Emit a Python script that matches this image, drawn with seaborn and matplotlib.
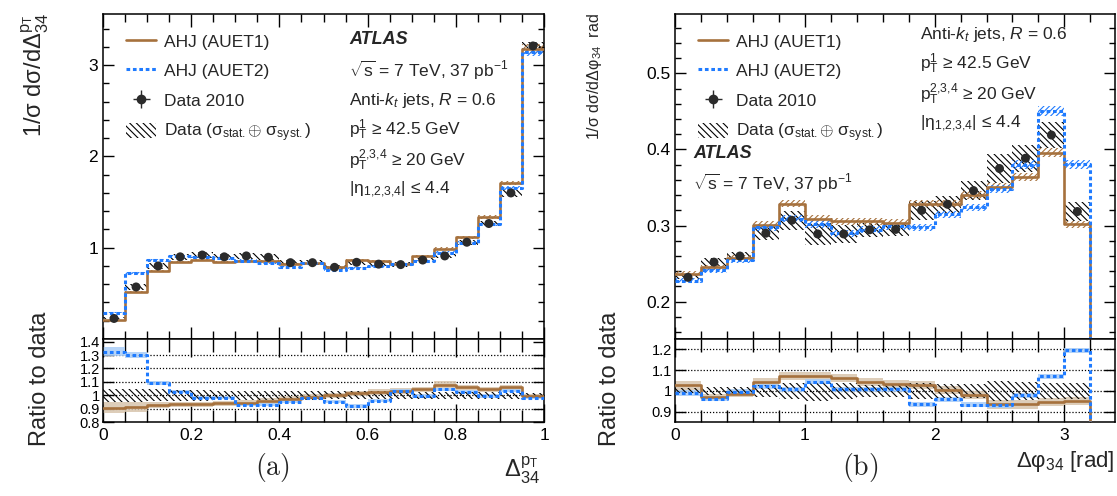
import numpy as np
import seaborn as sns
import matplotlib
matplotlib.use("Agg")
import matplotlib.pyplot as plt
from matplotlib.lines import Line2D
from matplotlib.patches import Patch
from matplotlib.ticker import MultipleLocator, FuncFormatter

sns.set_theme(style="ticks")
plt.rcParams['font.family'] = ['Liberation Sans', 'DejaVu Sans']
plt.rcParams['mathtext.fontset'] = 'custom'
plt.rcParams['mathtext.rm'] = 'Liberation Sans'
plt.rcParams['mathtext.it'] = 'Liberation Sans:italic'
plt.rcParams['mathtext.bf'] = 'Liberation Sans:bold'
plt.rcParams['hatch.linewidth'] = 0.8

BROWN = '#a6713d'
BLUE = '#1f7bff'
DARK = '#2b2b2b'

# ---- panel (a): Delta_34^pT, 20 bins of 0.05
a_edges = np.linspace(0, 1, 21)
a_data = [0.225, 0.57, 0.80, 0.90, 0.92, 0.90, 0.91, 0.895, 0.836, 0.836,
          0.785, 0.84, 0.82, 0.815, 0.865, 0.91, 1.06, 1.265, 1.60, 3.21]
a_auet1 = [0.207, 0.52, 0.745, 0.847, 0.865, 0.847, 0.855, 0.85, 0.818, 0.836,
           0.79, 0.862, 0.85, 0.82, 0.91, 0.99, 1.116, 1.34, 1.71, 3.18]
a_auet2 = [0.29, 0.727, 0.86, 0.91, 0.90, 0.884, 0.858, 0.836, 0.79, 0.836,
           0.753, 0.78, 0.80, 0.825, 0.855, 0.945, 1.055, 1.255, 1.655, 3.145]
a_data_err = [0.05, 0.05, 0.045, 0.04, 0.04, 0.035, 0.035, 0.035, 0.035, 0.035,
              0.03, 0.03, 0.03, 0.03, 0.025, 0.025, 0.025, 0.025, 0.025, 0.015]
a_ratio1 = [0.907, 0.913, 0.928, 0.932, 0.932, 0.94, 0.945, 0.958, 0.975, 0.99,
            1.0, 1.015, 1.025, 1.032, 1.045, 1.078, 1.058, 1.045, 1.058, 0.995]
a_ratio2 = [1.325, 1.30, 1.088, 1.025, 0.983, 0.983, 0.928, 0.928, 0.953, 0.983,
            0.953, 0.92, 0.958, 1.033, 0.995, 1.045, 1.025, 0.995, 1.033, 0.983]
a_ratio1_err = [0.04, 0.04, 0.02, 0.02, 0.02, 0.02, 0.02, 0.02, 0.02, 0.02,
                0.02, 0.02, 0.02, 0.02, 0.02, 0.025, 0.02, 0.02, 0.02, 0.015]
a_ratio2_err = [0.035, 0.025, 0.015, 0.012, 0.012, 0.012, 0.012, 0.012, 0.012, 0.012,
                0.012, 0.012, 0.012, 0.012, 0.012, 0.012, 0.012, 0.012, 0.012, 0.012]

# ---- panel (b): Delta phi_34, 16 bins of 0.2 (+ empty bin above 3.2)
b_edges = np.linspace(0, 3.4, 18)
b_data = [0.232, 0.252, 0.260, 0.290, 0.307, 0.289, 0.289, 0.2945, 0.295, 0.320,
          0.328, 0.346, 0.375, 0.3885, 0.419, 0.3185]
b_auet1 = [0.2367, 0.245, 0.257, 0.301, 0.329, 0.309, 0.3055, 0.3055, 0.304, 0.329,
           0.329, 0.340, 0.351, 0.3635, 0.396, 0.302, 0.0]
b_auet2 = [0.2275, 0.241, 0.255, 0.2975, 0.309, 0.302, 0.290, 0.2945, 0.299, 0.2975,
           0.315, 0.324, 0.348, 0.380, 0.4505, 0.3805, 0.0]
b_data_err = [0.012, 0.02, 0.02, 0.03, 0.04, 0.05, 0.04, 0.03, 0.03, 0.04,
              0.035, 0.035, 0.05, 0.045, 0.04, 0.04]
b_ratio1 = [1.026, 0.972, 0.987, 1.042, 1.072, 1.072, 1.062, 1.043, 1.032, 1.03,
            1.003, 0.98, 0.935, 0.935, 0.947, 0.951, 0.0]
b_ratio2 = [0.99, 0.963, 0.995, 1.022, 1.008, 1.044, 1.008, 1.008, 1.008, 0.935,
            0.96, 0.934, 0.93, 0.979, 1.07, 1.195, 0.0]
b_ratio1_err = [0.02, 0.015, 0.015, 0.02, 0.02, 0.02, 0.02, 0.02, 0.02, 0.02,
                0.02, 0.02, 0.02, 0.02, 0.02, 0.02, 0.0]
b_ratio2_err = [0.015, 0.012, 0.012, 0.012, 0.012, 0.012, 0.012, 0.012, 0.012, 0.012,
                0.012, 0.012, 0.012, 0.012, 0.012, 0.012, 0.0]

W, H = 1117, 496
fig = plt.figure(figsize=(W / 100, H / 100), dpi=100)


def px_axes(x0, y0, x1, y1):
    return fig.add_axes([x0 / W, 1 - y1 / H, (x1 - x0) / W, (y1 - y0) / H])


def px(x, y):
    return x / W, 1 - y / H


def step(ax, edges, vals, **kw):
    y = np.append(vals, vals[-1])
    sns.lineplot(x=edges[:len(y)], y=y, ax=ax, drawstyle='steps-post', **kw)


def band(ax, edges, lo, hi, **kw):
    lo = np.append(lo, lo[-1])
    hi = np.append(hi, hi[-1])
    ax.fill_between(edges[:len(lo)], lo, hi, step='post', **kw)


def style_axes(ax, major, minor, ymajor, yminor, lmaj, lmin):
    ax.xaxis.set_major_locator(MultipleLocator(major))
    ax.xaxis.set_minor_locator(MultipleLocator(minor))
    ax.yaxis.set_major_locator(MultipleLocator(ymajor))
    if yminor:
        ax.yaxis.set_minor_locator(MultipleLocator(yminor))
    ax.tick_params(which='both', direction='in', top=True, right=True, width=1.0, colors='black')
    ax.tick_params(axis='x', which='major', length=lmaj)
    ax.tick_params(axis='x', which='minor', length=lmin)
    ax.tick_params(axis='y', which='major', length=8)
    ax.tick_params(axis='y', which='minor', length=4.5)
    for s in ax.spines.values():
        s.set_linewidth(1.1)
        s.set_color('black')
    ax.yaxis.set_major_formatter(FuncFormatter(lambda v, p: f'{v:g}'))
    ax.xaxis.set_major_formatter(FuncFormatter(lambda v, p: f'{v:g}'))


def draw_main(ax, edges, data, m1, m2, derr):
    data = np.array(data)
    m1 = np.array(m1)
    m2 = np.array(m2)
    n = len(data)
    derr = np.array(derr) * data
    band(ax, edges[:n + 1], data - derr, data + derr, facecolor='none', edgecolor='black',
         hatch='\\\\\\\\\\', linewidth=0, zorder=2)
    band(ax, edges, m1 * 0.985, m1 * 1.015, facecolor='none', edgecolor=BROWN,
         hatch='//////', linewidth=0, zorder=2)
    band(ax, edges, m2 * 0.985, m2 * 1.015, facecolor='none', edgecolor=BLUE,
         hatch='//////', linewidth=0, zorder=2)
    step(ax, edges, m1, color=BROWN, lw=1.9, zorder=3)
    step(ax, edges, m2, color=BLUE, lw=2.2, linestyle=(0, (1.2, 0.9)), zorder=4)
    centers = (edges[:n] + edges[1:n + 1]) / 2
    sns.scatterplot(x=centers, y=data, ax=ax, color=DARK, s=42, edgecolor='none', zorder=5)


def draw_ratio(ax, edges, r1, r2, e1, e2, derr, grid):
    r1 = np.array(r1)
    r2 = np.array(r2)
    e1 = np.array(e1)
    e2 = np.array(e2)
    derr = np.array(derr)
    n = len(derr)
    for g in grid:
        ax.axhline(g, color='black', lw=0.9, linestyle=(0, (1, 1.5)), zorder=1)
    band(ax, edges, r1 - e1, r1 + e1, color='#d8c5ad', alpha=0.85, linewidth=0, zorder=2)
    band(ax, edges, r2 - e2, r2 + e2, color='#a9cdf7', alpha=0.85, linewidth=0, zorder=2)
    band(ax, edges[:n + 1], 1 - derr, 1 + derr, facecolor='none', edgecolor='black',
         hatch='\\\\\\\\\\', linewidth=0, zorder=3)
    step(ax, edges, r1, color=BROWN, lw=1.9, zorder=4)
    step(ax, edges, r2, color=BLUE, lw=2.2, linestyle=(0, (1.2, 0.9)), zorder=5)


# ---------------- panel (a)
axa = px_axes(103, 14, 544, 339)
axar = px_axes(103, 339, 544, 422)
draw_main(axa, a_edges, a_data, a_auet1, a_auet2, a_data_err)
axa.set_xlim(0, 1)
axa.set_ylim(0.0, 3.56)
style_axes(axa, 0.2, 0.05, 1, 0.2, 9, 5.5)
axa.set_yticks([1, 2, 3])
axa.tick_params(axis='x', labelbottom=False)
axa.tick_params(axis='y', labelsize=12.5)

draw_ratio(axar, a_edges, a_ratio1, a_ratio2, a_ratio1_err, a_ratio2_err, a_data_err,
           [0.9, 1.0, 1.1, 1.2, 1.3])
axar.set_xlim(0, 1)
axar.set_ylim(0.8, 1.42)
style_axes(axar, 0.2, 0.05, 0.1, None, 13, 9)
axar.set_yticks([0.8, 0.9, 1.0, 1.1, 1.2, 1.3, 1.4])
axar.tick_params(axis='y', labelsize=10.5, pad=2)
axar.tick_params(axis='x', labelsize=12.5, pad=4)

# ---------------- panel (b)
axb = px_axes(675, 14, 1115, 339)
axbr = px_axes(675, 339, 1115, 422)
draw_main(axb, b_edges, b_data, b_auet1, b_auet2, b_data_err)
axb.set_xlim(0, 3.39)
axb.set_ylim(0.151, 0.578)
style_axes(axb, 1, 0.2, 0.1, 0.02, 9, 5.5)
axb.tick_params(axis='x', labelbottom=False)
axb.tick_params(axis='y', labelsize=12.5)

draw_ratio(axbr, b_edges, b_ratio1, b_ratio2, b_ratio1_err, b_ratio2_err, b_data_err,
           [0.9, 1.0, 1.1, 1.2])
axbr.set_xlim(0, 3.39)
axbr.set_ylim(0.85, 1.25)
style_axes(axbr, 1, 0.2, 0.1, None, 13, 9)
axbr.set_yticks([0.9, 1.0, 1.1, 1.2])
axbr.tick_params(axis='y', labelsize=10.5, pad=2)
axbr.tick_params(axis='x', labelsize=12.5, pad=4)

for ax in (axa, axar, axb, axbr):
    ax.set_xlabel('')
    ax.set_ylabel('')

# ---------------- legends
err_proxy = axa.errorbar([np.nan], [np.nan], xerr=[0.1], yerr=[0.1], fmt='o', color=DARK,
                         ms=6, lw=1.0)
handles = [Line2D([], [], color=BROWN, lw=1.9),
           Line2D([], [], color=BLUE, lw=2.2, linestyle=(0, (1.2, 0.9))),
           err_proxy,
           Patch(facecolor='none', edgecolor='black', hatch='\\\\\\\\\\', linewidth=0)]
labels = ['AHJ (AUET1)', 'AHJ (AUET2)', 'Data 2010',
          r'Data (σ$_{\mathrm{stat.}}$$\oplus$ σ$_{\mathrm{syst.}}$)']
for ax, x0 in ((axa, 126), (axb, 698)):
    ax.legend(handles, labels, loc='upper left', bbox_to_anchor=px(x0, 33),
              bbox_transform=fig.transFigure, frameon=False, fontsize=12.5,
              handlelength=1.75, handleheight=1.0, handletextpad=0.45,
              labelspacing=0.74, borderaxespad=0, borderpad=0)

# ---------------- annotations
fs = 12.5
fig.text(*px(349, 40), 'ATLAS', fontsize=13, fontweight='bold', fontstyle='italic', va='center')
fig.text(*px(349, 70), r'$\sqrt{\mathrm{s}}$ = 7 TeV, 37 pb$^{\mathrm{-1}}$', fontsize=fs, va='center')
fig.text(*px(349, 100), r'Anti-$k_{t}$ jets, $R$ = 0.6', fontsize=fs, va='center')
fig.text(*px(349, 130), r'p$_{\mathrm{T}}^{1}$ ≥ 42.5 GeV', fontsize=fs, va='center')
fig.text(*px(349, 160), r'p$_{\mathrm{T}}^{2{,}3{,}4}$ ≥ 20 GeV', fontsize=fs, va='center')
fig.text(*px(349, 190), r'|η$_{1{,}2{,}3{,}4}$| ≤ 4.4', fontsize=fs, va='center')

fig.text(*px(920, 34), r'Anti-$k_{t}$ jets, $R$ = 0.6', fontsize=fs, va='center')
fig.text(*px(920, 64), r'p$_{\mathrm{T}}^{1}$ ≥ 42.5 GeV', fontsize=fs, va='center')
fig.text(*px(920, 94), r'p$_{\mathrm{T}}^{2{,}3{,}4}$ ≥ 20 GeV', fontsize=fs, va='center')
fig.text(*px(920, 124), r'|η$_{1{,}2{,}3{,}4}$| ≤ 4.4', fontsize=fs, va='center')
fig.text(*px(693, 154), 'ATLAS', fontsize=13, fontweight='bold', fontstyle='italic', va='center')
fig.text(*px(693, 183), r'$\sqrt{\mathrm{s}}$ = 7 TeV, 37 pb$^{\mathrm{-1}}$', fontsize=fs, va='center')

# axis titles
fig.text(*px(35, 13), r'1/σ dσ/dΔ$^{\mathrm{p}_{\mathrm{T}}}_{34}$', rotation=90, ha='center',
         va='top', fontsize=17)
fig.text(*px(40, 379), 'Ratio to data', rotation=90, ha='center', va='center', fontsize=17)
fig.text(*px(595, 13), r'1/σ dσ/dΔφ$_{34}$  rad', rotation=90, ha='center', va='top', fontsize=11.5)
fig.text(*px(610, 379), 'Ratio to data', rotation=90, ha='center', va='center', fontsize=17)

fig.text(*px(540, 470), r'Δ$^{\mathrm{p}_{\mathrm{T}}}_{34}$', ha='right', va='center', fontsize=17)
fig.text(*px(1115, 462), r'Δφ$_{34}$ [rad]', ha='right', va='center', fontsize=16)

fig.text(*px(272, 467), r'$\mathrm{(a)}$', math_fontfamily='cm', fontsize=20, ha='center', va='center')
fig.text(*px(860, 467), r'$\mathrm{(b)}$', math_fontfamily='cm', fontsize=20, ha='center', va='center')

fig.savefig('out.png', dpi=100)
